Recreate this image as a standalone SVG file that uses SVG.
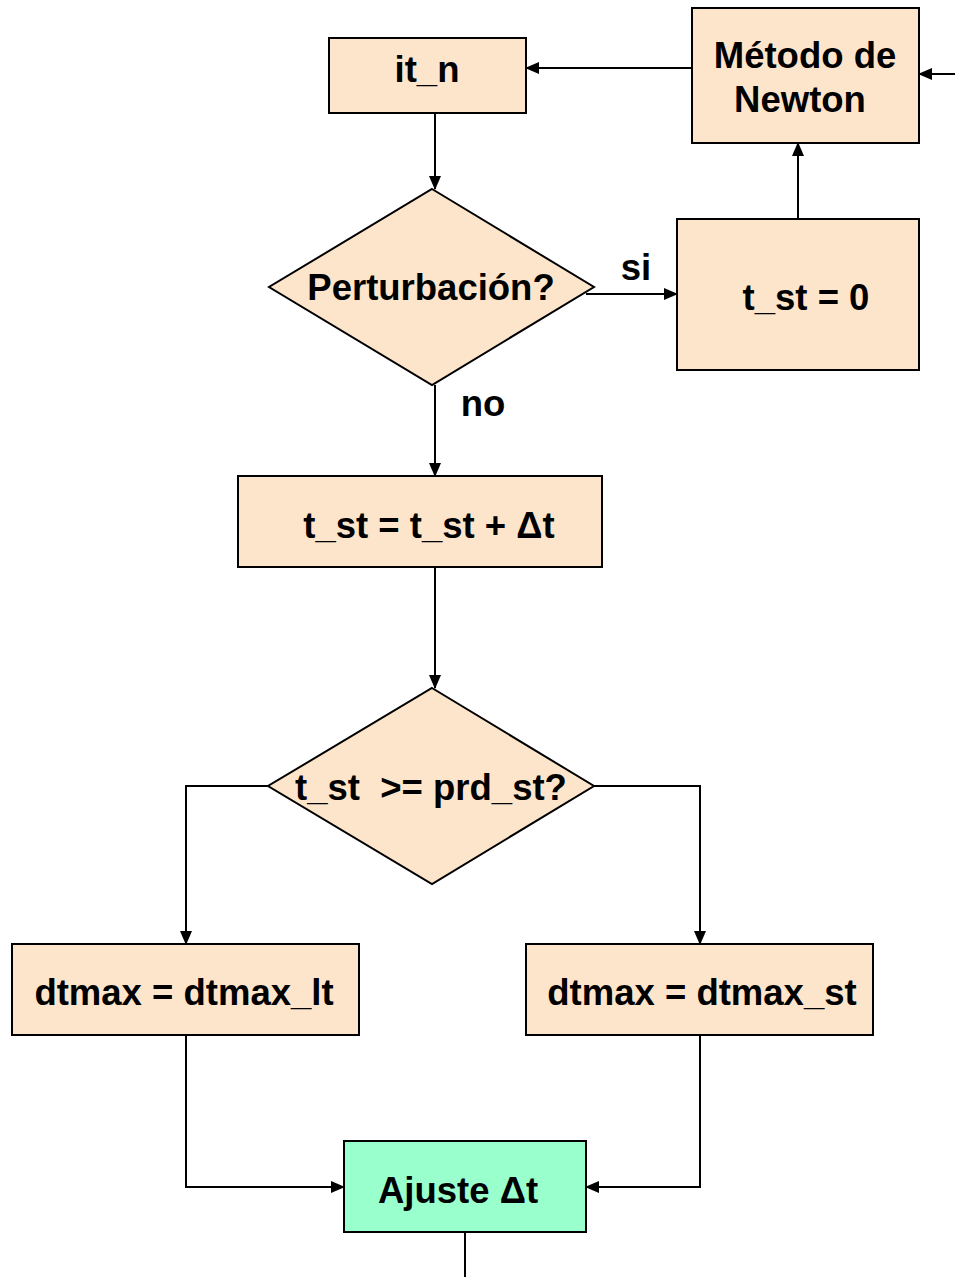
<svg xmlns="http://www.w3.org/2000/svg" width="955" height="1277" viewBox="0 0 955 1277">
<defs>
<marker id="ah" markerWidth="14" markerHeight="12" refX="13" refY="6" orient="auto" markerUnits="userSpaceOnUse">
<path d="M0,0 L14,6 L0,12 Z" fill="#000"/>
</marker>
<style>
.box{fill:#FDE5CC;stroke:#000;stroke-width:2}
.green{fill:#99FFCC;stroke:#000;stroke-width:2}
.t{font-family:"Liberation Sans",Arial,sans-serif;font-weight:bold;font-size:36.5px;fill:#000;text-anchor:middle}
.c{fill:none;stroke:#000;stroke-width:2}
</style>
</defs>
<rect width="955" height="1277" fill="#fff"/>
<g id="connectors">
<path class="c" d="M955,74 L919,74" marker-end="url(#ah)"/>
<path class="c" d="M692,68 L526,68" marker-end="url(#ah)"/>
<path class="c" d="M798,219 L798,143" marker-end="url(#ah)"/>
<path class="c" d="M435,113 L435,189" marker-end="url(#ah)"/>
<path class="c" d="M586,294 L677,294" marker-end="url(#ah)"/>
<path class="c" d="M435,385 L435,476" marker-end="url(#ah)"/>
<path class="c" d="M435,567 L435,688" marker-end="url(#ah)"/>
<path class="c" d="M268,786 L186,786 L186,944" marker-end="url(#ah)"/>
<path class="c" d="M594,786 L700,786 L700,944" marker-end="url(#ah)"/>
<path class="c" d="M186,1035 L186,1187 L344,1187" marker-end="url(#ah)"/>
<path class="c" d="M700,1035 L700,1187 L586,1187" marker-end="url(#ah)"/>
<path class="c" d="M465,1232 L465,1277"/>
<text class="t" x="636" y="280">si</text>
<text class="t" x="483" y="416">no</text>
</g>
<g id="it_n"><rect class="box" x="329" y="38" width="197" height="75"/><text class="t" x="427" y="82">it_n</text></g>
<g id="newton"><rect class="box" x="692" y="8" width="227" height="135"/><text class="t" x="805" y="68">Método de</text><text class="t" x="800" y="112">Newton</text></g>
<g id="tst0"><rect class="box" x="677" y="219" width="242" height="151"/><text class="t" x="806" y="310">t_st = 0</text></g>
<g id="perturb"><polygon class="box" points="432,189 594,287 432,385 269,287"/><text class="t" x="431" y="300">Perturbación?</text></g>
<g id="tstinc"><rect class="box" x="238" y="476" width="364" height="91"/><text class="t" x="429" y="538">t_st = t_st + Δt</text></g>
<g id="cmp"><polygon class="box" points="432,688 594,786 432,884 268,786"/><text class="t" x="431" y="800" xml:space="preserve">t_st  &gt;= prd_st?</text></g>
<g id="dtlt"><rect class="box" x="12" y="944" width="347" height="91"/><text class="t" x="184" y="1005">dtmax = dtmax_lt</text></g>
<g id="dtst"><rect class="box" x="526" y="944" width="347" height="91"/><text class="t" x="702" y="1005">dtmax = dtmax_st</text></g>
<g id="ajuste"><rect class="green" x="344" y="1141" width="242" height="91"/><text class="t" x="458" y="1203">Ajuste Δt</text></g>
</svg>
